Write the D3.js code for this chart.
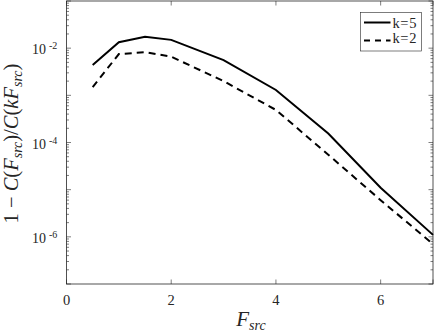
<!DOCTYPE html>
<html>
<head>
<meta charset="utf-8">
<script src="https://cdn.jsdelivr.net/npm/d3@7"></script>
<style>
  body { margin: 0; background: #fff; }
</style>
</head>
<body>
<div id="chart"></div>
<script>
/* data */
var fsrc = [0.5, 1, 1.5, 2, 3, 4, 5, 6, 7];
var k5 = [4.4e-3, 1.34e-2, 1.74e-2, 1.5e-2, 5.6e-3, 1.3e-3, 1.55e-4, 1.1e-5, 1.1e-6];
var k2 = [1.5e-3, 7.5e-3, 8.2e-3, 6.6e-3, 2.0e-3, 4.9e-4, 5.5e-5, 6e-6, 7e-7];
var seriesNames = ["k=5", "k=2"];
var xTicks = [0, 2, 4, 6];
var yTickExps = [-2, -4, -6];

var margin = {top: 1, right: 3, bottom: 48, left: 66.5};
var width = 436 - margin.left - margin.right,
    height = 332 - margin.top - margin.bottom;

var x = d3.scaleLinear().domain([0, 7]).range([0, width]);
var y = d3.scaleLog().domain([1e-7, 1e-1]).range([height, 0]);

var serif = "'Liberation Serif', serif";

var svg = d3.select("#chart")
            .append("svg")
            .attr("width", 436)
            .attr("height", 332)
            .style("font-family", serif)
            .attr("fill", "#262626");

var chart = svg.append("g")
            .attr("transform", "translate(" + margin.left + "," + margin.top + ")");

var axisColor = "#262626";

/* ticks inside on all four sides */
var majorY = d3.range(-7, 0).map(function(e) { return Math.pow(10, e); });
var minorY = [];
majorY.forEach(function(m) {
    for (var i = 2; i <= 9; i++) minorY.push(m * i);
});

function tickLines(vals, len) {
    chart.append("g").selectAll("line").data(vals).enter().append("line")
        .attr("x1", 0).attr("x2", len)
        .attr("y1", function(d) { return y(d); }).attr("y2", function(d) { return y(d); })
        .attr("stroke", axisColor).attr("stroke-width", 0.6);
    chart.append("g").selectAll("line").data(vals).enter().append("line")
        .attr("x1", width).attr("x2", width - len)
        .attr("y1", function(d) { return y(d); }).attr("y2", function(d) { return y(d); })
        .attr("stroke", axisColor).attr("stroke-width", 0.6);
}
tickLines(majorY, 4.5);
tickLines(minorY, 2.5);

chart.append("g").selectAll("line").data(xTicks.concat([7])).enter().append("line")
    .attr("x1", function(d) { return x(d); }).attr("x2", function(d) { return x(d); })
    .attr("y1", height).attr("y2", height - 4.5)
    .attr("stroke", axisColor).attr("stroke-width", 0.6);
chart.append("g").selectAll("line").data(xTicks.concat([7])).enter().append("line")
    .attr("x1", function(d) { return x(d); }).attr("x2", function(d) { return x(d); })
    .attr("y1", 0).attr("y2", 4.5)
    .attr("stroke", axisColor).attr("stroke-width", 0.6);

/* box */
chart.append("rect")
    .attr("x", 0).attr("y", 0)
    .attr("width", width).attr("height", height)
    .attr("fill", "none")
    .attr("stroke", axisColor)
    .attr("stroke-width", 0.8);

/* x tick labels */
chart.append("g").selectAll("text").data(xTicks).enter().append("text")
    .attr("x", function(d) { return x(d); })
    .attr("y", height + 21)
    .attr("text-anchor", "middle")
    .attr("font-size", 14.5)
    .text(function(d) { return d; });

/* y tick labels: 10 with superscript */
var yl = chart.append("g").selectAll("text").data(yTickExps).enter().append("text")
    .attr("x", -34.5)
    .attr("y", function(d) { return y(Math.pow(10, d)) + 6; })
    .attr("font-size", 14);
yl.append("tspan").text("10");
yl.append("tspan")
    .attr("dx", 3)
    .attr("dy", -5)
    .attr("font-size", 10)
    .text(function(d) { return "-" + (-d); });

/* lines */
var line = function(vals) {
    return d3.line()
        .x(function(d, i) { return x(fsrc[i]); })
        .y(function(d) { return y(d); })(vals);
};

chart.append("path")
    .attr("d", line(k5))
    .attr("fill", "none")
    .attr("stroke", "#000")
    .attr("stroke-width", 2);

chart.append("path")
    .attr("d", line(k2))
    .attr("fill", "none")
    .attr("stroke", "#000")
    .attr("stroke-width", 2)
    .attr("stroke-dasharray", "7,5");

/* legend */
var lg = svg.append("g").attr("transform", "translate(360.5,12.5)");
lg.append("rect")
    .attr("width", 61).attr("height", 38.5)
    .attr("fill", "#fff")
    .attr("stroke", axisColor)
    .attr("stroke-width", 0.6);
lg.append("line").attr("x1", 3.5).attr("x2", 30).attr("y1", 10).attr("y2", 10)
    .attr("stroke", "#000").attr("stroke-width", 2);
lg.append("line").attr("x1", 3.5).attr("x2", 30).attr("y1", 28).attr("y2", 28)
    .attr("stroke", "#000").attr("stroke-width", 2).attr("stroke-dasharray", "6,5");
lg.selectAll("text.lab").data(seriesNames).enter().append("text")
    .attr("x", 32)
    .attr("y", function(d, i) { return 15.5 + i * 15; })
    .attr("font-size", 14.5)
    .attr("letter-spacing", 0.6)
    .text(function(d) { return d; });

/* x label */
var xl = svg.append("text")
    .attr("x", 251)
    .attr("y", 326)
    .attr("text-anchor", "middle")
    .attr("font-size", 21);
xl.append("tspan").attr("font-style", "italic").text("F");
xl.append("tspan").attr("font-style", "italic").attr("font-size", 14).attr("dy", 4).text("src");

/* y label */
var ylab = svg.append("text")
    .attr("transform", "translate(18," + 143.5 + ")rotate(-90)")
    .attr("text-anchor", "middle")
    .attr("font-size", 20.5);
ylab.append("tspan").text("1 \u2212 ");
ylab.append("tspan").attr("font-style", "italic").text("C");
ylab.append("tspan").text("(");
ylab.append("tspan").attr("font-style", "italic").text("F");
ylab.append("tspan").attr("font-style", "italic").attr("font-size", 14).attr("dy", 4).text("src");
ylab.append("tspan").attr("dy", -4).text(")/");
ylab.append("tspan").attr("font-style", "italic").text("C");
ylab.append("tspan").text("(");
ylab.append("tspan").attr("font-style", "italic").text("kF");
ylab.append("tspan").attr("font-style", "italic").attr("font-size", 14).attr("dy", 4).text("src");
ylab.append("tspan").attr("dy", -4).text(")");
</script>
</body>
</html>
